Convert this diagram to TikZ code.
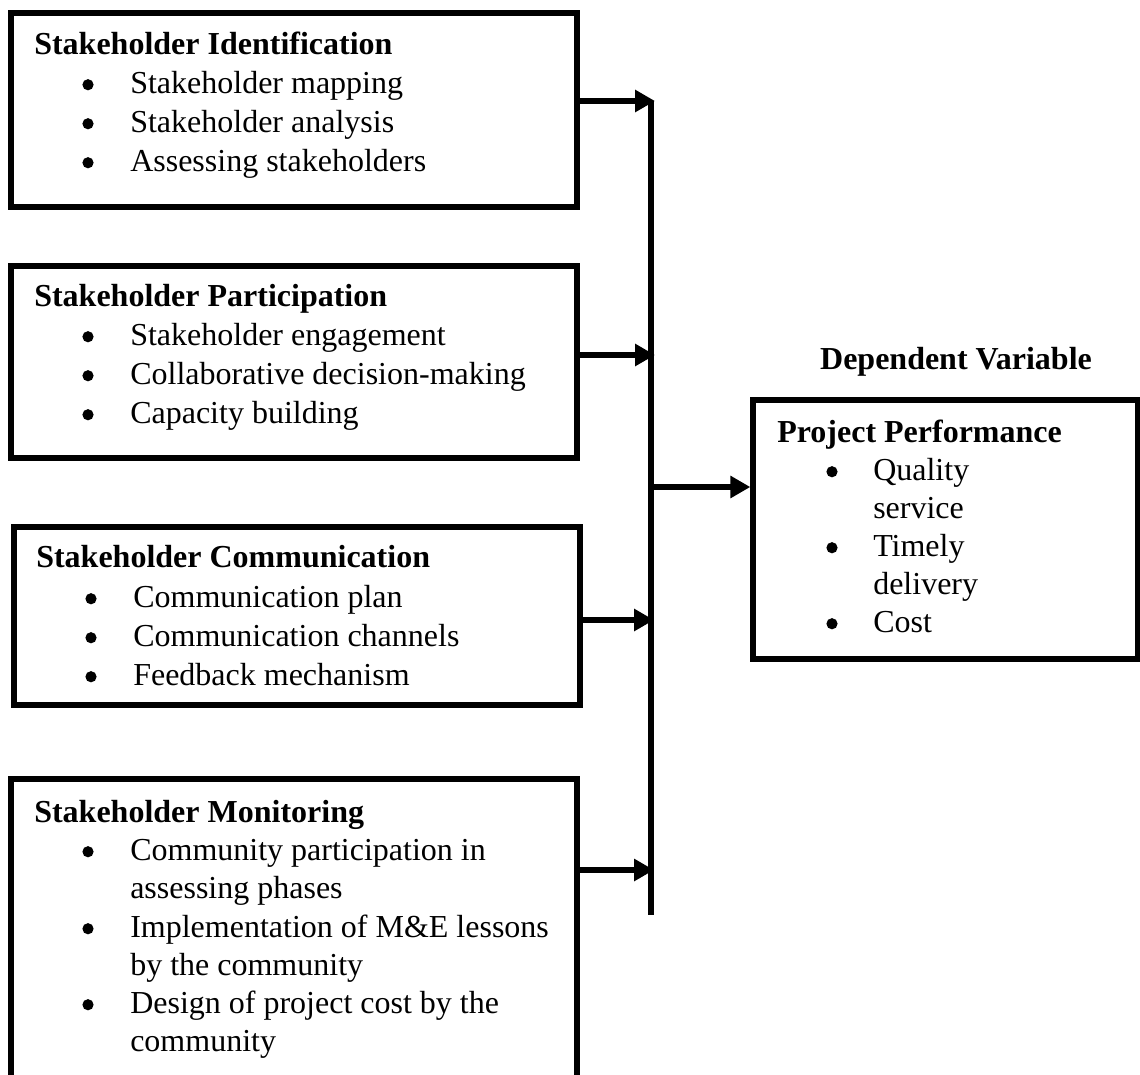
\documentclass[tikz,border=0pt]{standalone}
\usepackage{fontspec}
\setmainfont{Liberation Serif}
\usetikzlibrary{arrows.meta,fit}
\tikzset{
  box/.style={draw, line width=4pt, inner sep=0pt},
  ttl/.style={anchor=base west, inner sep=0pt, font=\fontsize{24}{29}\selectfont\bfseries},
  itm/.style={anchor=base west, inner sep=0pt, font=\fontsize{24}{29}\selectfont},
  bul/.style={circle, fill, inner sep=0pt, minimum size=8.4pt, yshift=6.2pt},
  conn/.style={line width=4pt, -{Triangle[length=15pt,width=16pt]}},
  spine/.style={line width=4pt},
}
\begin{document}
\begin{tikzpicture}[x=0.75pt,y=-0.75pt]
\useasboundingbox (0,0) rectangle (1140,1075);
\clip (0,0) rectangle (1140,1075);

% boxes
\node[box, fit={(11,13) (577,207)}] (b1) {};
\node[box, fit={(11,266) (577,458)}] (b2) {};
\node[box, fit={(14,527) (580,705)}] (b3) {};
\node[box, fit={(11,779) (577,1120)}] (b4) {};
\node[box, fit={(753,400) (1138,659)}] (pp) {};

% box 1
\node[ttl] (t1) at (34,54) {Stakeholder Identification};
\node[bul] (t1ab) at (88,93) {};
\node[itm] (t1a) at (130,93) {Stakeholder mapping};
\node[bul] (t1bb) at (88,132) {};
\node[itm] (t1b) at (130,132) {Stakeholder analysis};
\node[bul] (t1cb) at (88,171) {};
\node[itm] (t1c) at (130,171) {Assessing stakeholders};

% box 2
\node[ttl] (t2) at (34,306) {Stakeholder Participation};
\node[bul] (t2ab) at (88,345) {};
\node[itm] (t2a) at (130,345) {Stakeholder engagement};
\node[bul] (t2bb) at (88,384) {};
\node[itm] (t2b) at (130,384) {Collaborative decision-making};
\node[bul] (t2cb) at (88,423) {};
\node[itm] (t2c) at (130,423) {Capacity building};

% box 3
\node[ttl] (t3) at (36,567) {Stakeholder Communication};
\node[bul] (t3ab) at (91,607) {};
\node[itm] (t3a) at (133,607) {Communication plan};
\node[bul] (t3bb) at (91,646) {};
\node[itm] (t3b) at (133,646) {Communication channels};
\node[bul] (t3cb) at (91,685) {};
\node[itm] (t3c) at (133,685) {Feedback mechanism};

% box 4
\node[ttl] (t4) at (34,822) {Stakeholder Monitoring};
\node[bul] (t4ab) at (88,860) {};
\node[itm] (t4a) at (130,860) {Community participation in};
\node[itm] (t4a2) at (130,898) {assessing phases};
\node[bul] (t4bb) at (88,937) {};
\node[itm] (t4b) at (130,937) {Implementation of M\&E lessons};
\node[itm] (t4b2) at (130,975) {by the community};
\node[bul] (t4cb) at (88,1013) {};
\node[itm] (t4c) at (130,1013) {Design of project cost by the};
\node[itm] (t4c2) at (130,1051) {community};

% dependent variable
\node[anchor=base, inner sep=0pt, font=\fontsize{24}{29}\selectfont\bfseries] (dv) at (956,369) {Dependent Variable};
\node[ttl] (t5) at (777,442) {Project Performance};
\node[bul] (t5ab) at (832,480) {};
\node[itm] (t5a) at (873,480) {Quality};
\node[itm] (t5a2) at (873,518) {service};
\node[bul] (t5bb) at (832,556) {};
\node[itm] (t5b) at (873,556) {Timely};
\node[itm] (t5b2) at (873,594) {delivery};
\node[bul] (t5cb) at (832,632) {};
\node[itm] (t5c) at (873,632) {Cost};

% spine and connectors
\coordinate (s1) at (655,101);
\coordinate (s2) at (655,355);
\coordinate (s3) at (654,620);
\coordinate (s4) at (654,870);
\coordinate (sm) at (651,487);
\coordinate (send) at (651,915);
\draw[spine] (651,101) -- (send);
\draw[conn] (b1.east |- s1) -- (s1);
\draw[conn] (b2.east |- s2) -- (s2);
\draw[conn] (b3.east |- s3) -- (s3);
\draw[conn] (b4.east |- s4) -- (s4);
\draw[conn] (sm) -- (pp.west |- sm);
\end{tikzpicture}
\end{document}
